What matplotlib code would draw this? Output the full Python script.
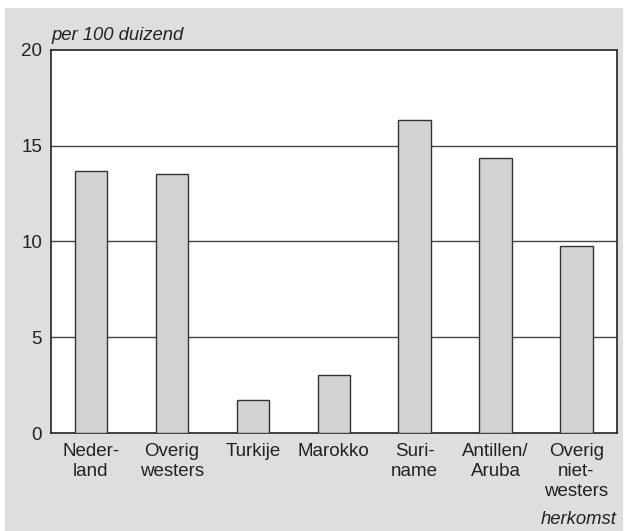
import matplotlib
matplotlib.use("Agg")
import matplotlib.pyplot as plt
from matplotlib.patches import Rectangle

categories = ["Neder-\nland", "Overig\nwesters", "Turkije", "Marokko", "Suri-\nname", "Antillen/\nAruba", "Overig\nniet-\nwesters"]
values = [13.7, 13.5, 1.7, 3.05, 16.35, 14.35, 9.75]
yticks = [0, 5, 10, 15, 20]

plt.rcParams['font.family'] = ['Liberation Sans', 'DejaVu Sans']

W, H = 624, 531
fig = plt.figure(figsize=(W/100, H/100), dpi=100)
fig.patch.set_facecolor('white')
bg = Rectangle((5/W, 0), (622.5-5)/W, (531-8)/H, transform=fig.transFigure,
               facecolor='#dedede', edgecolor='none', zorder=-10)
fig.add_artist(bg)

ax = fig.add_axes([50.5/W, (H-433)/H, (617-50.5)/W, (433-50)/H])
ax.set_zorder(5)
ax.set_facecolor('white')
x = list(range(len(categories)))
ax.bar(x, values, width=0.4, color='#d2d3d5', edgecolor='#333333', linewidth=1.0, zorder=3)
ax.set_xlim(-0.5, len(categories) - 0.5)
ax.set_ylim(0, 20)
ax.set_yticks(yticks)
ax.set_yticklabels([str(t) for t in yticks], fontsize=13.5)
ax.set_xticks(x)
ax.set_xticklabels(categories, fontsize=13.5, linespacing=1.25, va='top')
ax.tick_params(axis='both', length=0, pad=6, colors='#222222')
ax.tick_params(axis='x', pad=7)
for t in yticks[1:-1]:
    ax.axhline(t, color='#444444', linewidth=1.0, zorder=1)
for s in ax.spines.values():
    s.set_color('#222222')
    s.set_linewidth(1.2)

fig.text(51/W, (H-35)/H, "per 100 duizend", fontsize=13.3, style='italic', color='#222222', va='center', ha='left')
fig.text(617/W, (H-520)/H, "herkomst", fontsize=13.3, style='italic', color='#222222', va='center', ha='right')

fig.savefig("out.png", dpi=100, facecolor=fig.get_facecolor())
